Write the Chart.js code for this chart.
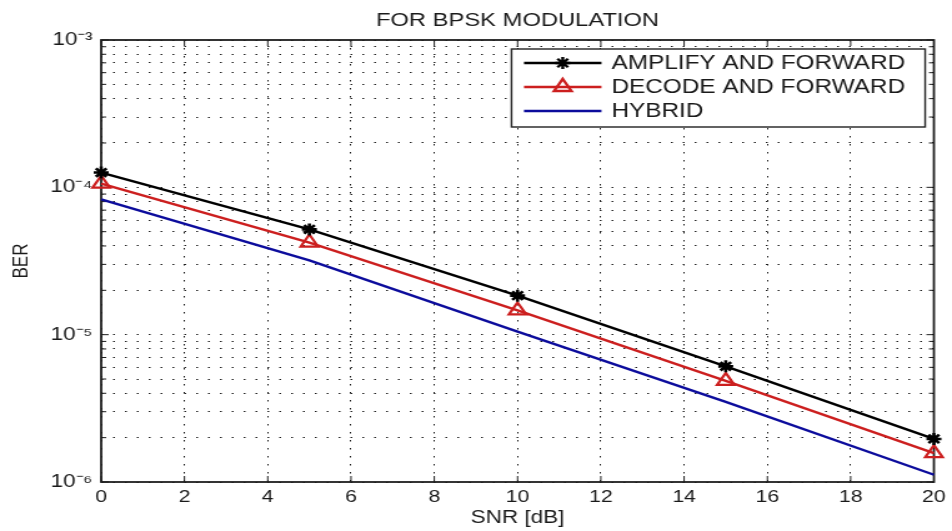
<!DOCTYPE html>
<html>
<head>
<meta charset="utf-8">
<script src="https://cdn.jsdelivr.net/npm/chart.js@4/dist/chart.umd.min.js"></script>
<style>
  html, body { margin: 0; padding: 0; background: #fff; overflow: hidden; }
  /* the reference is a MATLAB figure stretched sideways, so stretch the canvas the same way */
  #wrap { width: 762px; height: 531px; transform: scaleX(1.2493); transform-origin: 0 0; }
</style>
</head>
<body>
<div id="wrap"><canvas id="chart" width="762" height="531"></canvas></div>
<script>
// data
const snr = [0, 5, 10, 15, 20];
const amplifyForward = [1.26e-4, 5.18e-5, 1.84e-5, 6.1e-6, 1.96e-6];
const decodeForward = [1.06e-4, 4.22e-5, 1.46e-5, 4.86e-6, 1.57e-6];
const hybrid = [8.3e-5, 3.19e-5, 1.05e-5, 3.5e-6, 1.12e-6];

const xTicks = [0, 2, 4, 6, 8, 10, 12, 14, 16, 18, 20];
const yMajor = [1e-6, 1e-5, 1e-4, 1e-3];
const yTickLabels = ['10⁻⁶', '10⁻⁵', '10⁻⁴', '10⁻³'];

const FONT = "'Liberation Sans', Arial, sans-serif";

// log grid: 1..9 x 10^n for each decade
const yGrid = [];
for (let n = -6; n < -3; n++) {
    for (let m = 1; m < 10; m++) {
        yGrid.push(Number((m * Math.pow(10, n)).toPrecision(3)));
    }
}
yGrid.push(1e-3);

function toPoints(ys) {
    return snr.map((s, i) => ({ x: s, y: ys[i] }));
}

// box, inward tick marks and the in-axes legend
const matlabAxes = {
    id: 'matlabAxes',
    beforeDatasetsDraw(chart) {
        const { ctx, chartArea: a, scales: { x, y } } = chart;
        ctx.save();
        ctx.strokeStyle = '#1e1e1e';
        ctx.lineWidth = 1;
        ctx.beginPath();
        x.ticks.forEach(t => {
            const px = x.getPixelForValue(t.value);
            ctx.moveTo(px, a.bottom); ctx.lineTo(px, a.bottom - 6);
            ctx.moveTo(px, a.top); ctx.lineTo(px, a.top + 6);
        });
        y.ticks.forEach(t => {
            const py = y.getPixelForValue(t.value);
            const len = yMajor.includes(t.value) ? 6 : 4;
            ctx.moveTo(a.left, py); ctx.lineTo(a.left + len, py);
            ctx.moveTo(a.right, py); ctx.lineTo(a.right - len, py);
        });
        ctx.stroke();
        ctx.lineWidth = 1.8;
        ctx.strokeRect(a.left, a.top, a.right - a.left, a.bottom - a.top);
        ctx.restore();
    },
    afterDraw(chart) {
        const { ctx, chartArea: a } = chart;
        const sets = chart.data.datasets;
        ctx.save();
        ctx.font = '19.5px ' + FONT;
        const textW = Math.max(...sets.map(d => ctx.measureText(d.label).width));
        const w = 80 + textW + 16;
        const h = 78;
        const left = a.right - 7 - w;
        const top = a.top + 9;
        ctx.fillStyle = '#fff';
        ctx.fillRect(left, top, w, h);
        ctx.strokeStyle = '#222';
        ctx.lineWidth = 1.4;
        ctx.strokeRect(left, top, w, h);
        sets.forEach((d, i) => {
            const cy = top + 14 + i * 24;
            ctx.strokeStyle = d.borderColor;
            ctx.lineWidth = d.borderWidth;
            ctx.beginPath();
            ctx.moveTo(left + 10, cy);
            ctx.lineTo(left + 72, cy);
            ctx.stroke();
            if (d.pointRadius > 0) {
                ctx.fillStyle = 'rgba(0,0,0,0)';
                Chart.helpers.drawPoint(ctx, {
                    pointStyle: d.pointStyle,
                    radius: d.pointRadius,
                    rotation: 0,
                    borderWidth: d.pointBorderWidth
                }, left + 41, cy);
            }
            ctx.fillStyle = '#1a1a1a';
            ctx.textBaseline = 'middle';
            ctx.textAlign = 'left';
            ctx.fillText(d.label, left + 80, cy + 1);
        });
        ctx.restore();
    }
};

const ctx = document.getElementById('chart').getContext('2d');
new Chart(ctx, {
    type: 'line',
    data: {
        datasets: [{
            label: 'AMPLIFY AND FORWARD',
            data: toPoints(amplifyForward),
            borderColor: '#000000',
            borderWidth: 2.4,
            pointStyle: 'star',
            pointRadius: 6,
            pointBorderWidth: 2.6,
            pointBackgroundColor: 'rgba(0,0,0,0)',
            pointBorderColor: '#000000'
        }, {
            label: 'DECODE AND FORWARD',
            data: toPoints(decodeForward),
            borderColor: '#cc1f1f',
            borderWidth: 2.4,
            pointStyle: 'triangle',
            pointRadius: 8,
            pointBorderWidth: 2.2,
            pointBackgroundColor: 'rgba(0,0,0,0)',
            pointBorderColor: '#cc1f1f'
        }, {
            label: 'HYBRID',
            data: toPoints(hybrid),
            borderColor: '#0c0c9c',
            borderWidth: 2.4,
            pointRadius: 0,
            pointBorderWidth: 0
        }]
    },
    options: {
        responsive: false,
        animation: false,
        devicePixelRatio: 1,
        clip: false,
        layout: { padding: { left: 0, right: 11.4, top: 0, bottom: 0 } },
        plugins: {
            legend: { display: false },
            tooltip: { enabled: false },
            title: {
                display: true,
                text: 'FOR BPSK MODULATION',
                fullSize: false,
                color: '#1a1a1a',
                font: { family: FONT, size: 19, weight: 'normal' },
                padding: { top: 9.6, bottom: 7.6 }
            }
        },
        scales: {
            x: {
                type: 'linear',
                min: 0,
                max: 20,
                afterFit: s => { s.height = 49; },
                afterBuildTicks: s => { s.ticks = xTicks.map(v => ({ value: v })); },
                ticks: {
                    autoSkip: false,
                    maxRotation: 0,
                    padding: 5,
                    color: '#1a1a1a',
                    font: { family: FONT, size: 17 }
                },
                grid: { color: '#1e1e1e', lineWidth: 1, drawTicks: false },
                border: { display: false, dash: [1.5, 6.5] },
                title: {
                    display: true,
                    text: 'SNR [dB]',
                    color: '#1a1a1a',
                    font: { family: FONT, size: 18 },
                    padding: { top: 0, bottom: 2 }
                }
            },
            y: {
                type: 'logarithmic',
                min: 1e-6,
                max: 1e-3,
                afterFit: s => { s.width = 81; },
                afterBuildTicks: s => { s.ticks = yGrid.map(v => ({ value: v })); },
                ticks: {
                    autoSkip: false,
                    padding: 7,
                    color: '#1a1a1a',
                    font: { family: FONT, size: 18 },
                    callback: v => {
                        const i = yMajor.indexOf(v);
                        return i >= 0 ? yTickLabels[i] : '';
                    }
                },
                grid: { color: '#1e1e1e', lineWidth: 1, drawTicks: false },
                border: { display: false, dash: [1.5, 8] },
                title: {
                    display: true,
                    text: 'BER',
                    color: '#1a1a1a',
                    font: { family: FONT, size: 17 },
                    padding: { top: 7, bottom: 0 }
                }
            }
        }
    },
    plugins: [matlabAxes]
});
</script>
</body>
</html>
